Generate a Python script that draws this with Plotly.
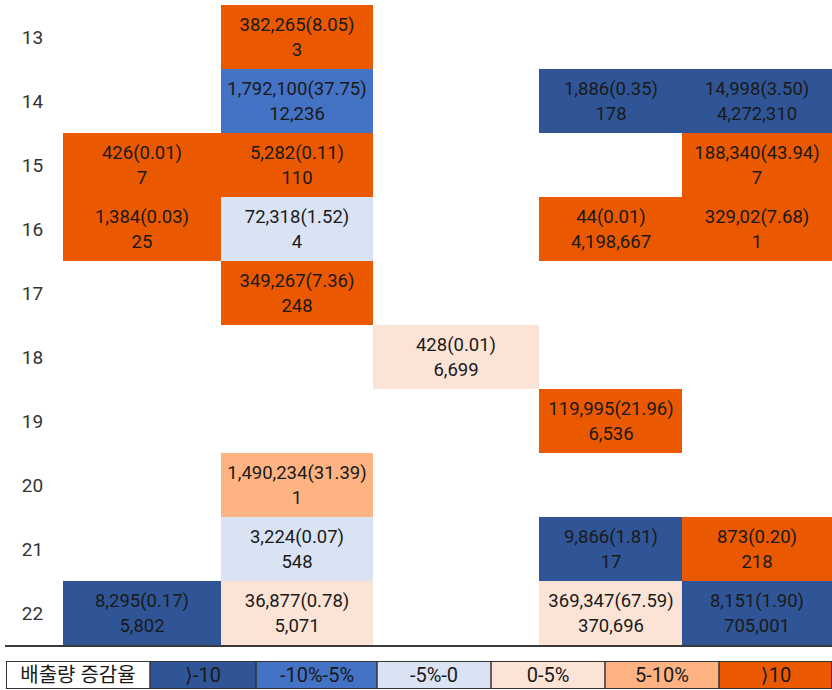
import plotly.graph_objects as go

# Row labels (top to bottom) and per-cell contents
rows = [13, 14, 15, 16, 17, 18, 19, 20, 21, 22]

# Category code per cell: 0 '>-10', 1 '-10%-5%', 2 '-5%-0', 3 '0-5%', 4 '5-10%', 5 '>10'
category = [
    [None, 5, None, None, None],
    [None, 1, None, 0, 0],
    [5, 5, None, None, 5],
    [5, 2, None, 5, 5],
    [None, 5, None, None, None],
    [None, None, 3, None, None],
    [None, None, None, 5, None],
    [None, 4, None, None, None],
    [None, 2, None, 0, 5],
    [0, 3, None, 3, 0],
]

# Emission amount (share %) line
amount = [
    ["", "382,265(8.05)", "", "", ""],
    ["", "1,792,100(37.75)", "", "1,886(0.35)", "14,998(3.50)"],
    ["426(0.01)", "5,282(0.11)", "", "", "188,340(43.94)"],
    ["1,384(0.03)", "72,318(1.52)", "", "44(0.01)", "329,02(7.68)"],
    ["", "349,267(7.36)", "", "", ""],
    ["", "", "428(0.01)", "", ""],
    ["", "", "", "119,995(21.96)", ""],
    ["", "1,490,234(31.39)", "", "", ""],
    ["", "3,224(0.07)", "", "9,866(1.81)", "873(0.20)"],
    ["8,295(0.17)", "36,877(0.78)", "", "369,347(67.59)", "8,151(1.90)"],
]

# Second line of each cell
count = [
    ["", "3", "", "", ""],
    ["", "12,236", "", "178", "4,272,310"],
    ["7", "110", "", "", "7"],
    ["25", "4", "", "4,198,667", "1"],
    ["", "248", "", "", ""],
    ["", "", "6,699", "", ""],
    ["", "", "", "6,536", ""],
    ["", "1", "", "", ""],
    ["", "548", "", "17", "218"],
    ["5,802", "5,071", "", "370,696", "705,001"],
]

legend_title = "배출량 증감율"
legend_labels = ["⟩-10", "-10%-5%", "-5%-0", "0-5%", "5-10%", "⟩10"]
palette = ["#2F5597", "#4472C4", "#DAE3F3", "#FBE3D6", "#FFB383", "#EA5800"]

# Layout geometry (pixels in an 832x690 canvas)
W, H = 832, 690
col_edges = [63, 221, 373, 539, 682, 832]
legend_edges = [6, 150, 256, 377, 491, 605, 719, 832]
grid_top, grid_bottom = 5, 645
legend_top, legend_bottom = 661, 689

FONT = "Roboto, Noto Sans CJK KR, sans-serif"
KR_FONT = "Roboto, DejaVu Sans, Noto Sans CJK KR, sans-serif"
TEXT_COLOR = "#1a1a1a"


def stepped(colors):
    n = len(colors)
    scale = []
    for i, c in enumerate(colors):
        scale.append([i / n, c])
        scale.append([(i + 1) / n, c])
    return scale


cell_text = [
    [(a + "<br>" + c) if a else "" for a, c in zip(ar, cr)]
    for ar, cr in zip(amount, count)
]

fig = go.Figure()

fig.add_trace(go.Heatmap(
    z=category,
    x=col_edges,
    y=rows,
    text=cell_text,
    texttemplate="%{text}",
    textfont=dict(family=FONT, size=18.5, color=TEXT_COLOR),
    colorscale=stepped(palette),
    zmin=-0.5, zmax=len(palette) - 0.5,
    showscale=False,
    xgap=0, ygap=0,
    hoverinfo="skip",
    xaxis="x", yaxis="y",
))

# Colour key along the bottom
legend_colors = ["#FFFFFF"] + palette
fig.add_trace(go.Heatmap(
    z=[list(range(len(legend_colors)))],
    x=legend_edges,
    y=[0.5],
    text=[[legend_title] + legend_labels],
    texttemplate="%{text}",
    textfont=dict(family=KR_FONT, size=20, color=TEXT_COLOR),
    colorscale=stepped(legend_colors),
    zmin=-0.5, zmax=len(legend_colors) - 0.5,
    showscale=False,
    hoverinfo="skip",
    xaxis="x2", yaxis="y2",
))

shapes = []
# Baseline under the grid
shapes.append(dict(type="line", xref="paper", yref="paper",
                   x0=5 / W, x1=1, y0=(H - 646) / H, y1=(H - 646) / H,
                   line=dict(color="#3a3a3a", width=2)))
# Key borders
shapes.append(dict(type="rect", xref="x2", yref="y2",
                   x0=legend_edges[0], x1=legend_edges[-1], y0=0, y1=1,
                   line=dict(color="#333333", width=2)))
for e in legend_edges[1:-1]:
    shapes.append(dict(type="line", xref="x2", yref="y2",
                       x0=e, x1=e, y0=0, y1=1,
                       line=dict(color="#333333", width=1.5)))

fig.update_layout(
    width=W, height=H,
    margin=dict(l=0, r=0, t=0, b=0),
    paper_bgcolor="white",
    plot_bgcolor="white",
    showlegend=False,
    shapes=shapes,
    xaxis=dict(domain=[col_edges[0] / W, 1], range=[col_edges[0], col_edges[-1]],
               visible=False, fixedrange=True),
    yaxis=dict(domain=[(H - grid_bottom) / H, (H - grid_top) / H],
               range=[rows[-1] + 0.5, rows[0] - 0.5],
               tickvals=rows, ticktext=[str(r) for r in rows],
               ticks="outside", ticklen=15, tickcolor="rgba(0,0,0,0)",
               tickfont=dict(family=FONT, size=19, color="#333333"),
               showgrid=False, zeroline=False, showline=False, fixedrange=True),
    xaxis2=dict(domain=[legend_edges[0] / W, 1], range=[legend_edges[0], legend_edges[-1]],
                visible=False, anchor="y2", fixedrange=True),
    yaxis2=dict(domain=[(H - legend_bottom) / H, (H - legend_top) / H],
                range=[0, 1], visible=False, anchor="x2", fixedrange=True),
)

fig.write_html("out.html")
